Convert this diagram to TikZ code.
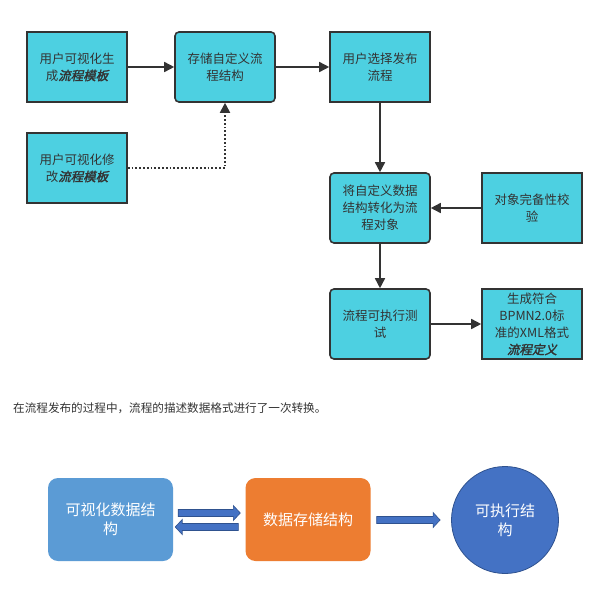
\documentclass[tikz,border=0pt]{standalone}
\usepackage{fontspec}
\setmainfont{Noto Sans CJK SC}
\newfontfamily\cjkbi{Noto Sans CJK SC}[FakeSlant=0.22,FakeBold=2]
\usetikzlibrary{arrows.meta,calc}
\definecolor{boxcyan}{HTML}{4DD0E1}
\definecolor{ink}{HTML}{333333}
\definecolor{lblue}{HTML}{5B9BD5}
\definecolor{orng}{HTML}{ED7D31}
\definecolor{dblue}{HTML}{4472C4}
\definecolor{dbline}{HTML}{2F528F}
\newcommand\bi[1]{{\cjkbi #1}}
\newcommand\blkR[2]{%
  \path[barr] let \p1=(#1), \p2=(#2) in
   (\x1,\y1+3.5pt) -- (\x2-7pt,\y1+3.5pt) -- (\x2-7pt,\y1+7.5pt) -- (\x2,\y1)
   -- (\x2-7pt,\y1-7.5pt) -- (\x2-7pt,\y1-3.5pt) -- (\x1,\y1-3.5pt) -- cycle;}
\newcommand\blkL[2]{%
  \path[barr] let \p1=(#1), \p2=(#2) in
   (\x1,\y1+3.5pt) -- (\x2+7pt,\y1+3.5pt) -- (\x2+7pt,\y1+7.5pt) -- (\x2,\y1)
   -- (\x2+7pt,\y1-7.5pt) -- (\x2+7pt,\y1-3.5pt) -- (\x1,\y1-3.5pt) -- cycle;}
\tikzset{
  flowbox/.style={draw=ink,line width=1.6pt,fill=boxcyan,minimum width=100pt,minimum height=70pt,
    inner sep=2pt,align=center,text=ink,font=\fontsize{12.5pt}{17pt}\selectfont},
  flowround/.style={flowbox,rounded corners=4pt},
  conn/.style={draw=ink,line width=1.6pt,-{Triangle[length=10pt,width=10pt]}},
  dotconn/.style={draw=ink,line width=1.8pt,dotted,-{Triangle[length=10pt,width=10pt]}},
  bigbox/.style={rounded corners=10pt,minimum width=125pt,minimum height=83pt,align=center,
    text=white,font=\fontsize{15pt}{19pt}\selectfont},
  barr/.style={fill=dblue,draw=dbline,line width=0.6pt}
}
\begin{document}
\begin{tikzpicture}[x=1pt,y=-1pt]
\useasboundingbox[fill=white] (0,0) rectangle (600,592);
% top flow chart
\node[flowbox] (A) at (77,67) {用户可视化生\\成\bi{流程模板}};
\node[flowround] (B) at (225,67) {存储自定义流\\程结构};
\node[flowbox] (D) at (380,67) {用户选择发布\\流程};
\node[flowbox] (C) at (77,168) {用户可视化修\\改\bi{流程模板}};
\node[flowround] (E) at (380,208) {将自定义数据\\结构转化为流\\程对象};
\node[flowbox] (F) at (532,208) {对象完备性校\\验};
\node[flowround] (G) at (380,324) {流程可执行测\\试};
\node[flowbox] (H) at (532,324) {生成符合\\BPMN2.0标\\准的XML格式\\\bi{流程定义}};
\draw[conn] (A) -- (B);
\draw[conn] (B) -- (D);
\draw[dotconn] (C.east) -| (B.south);
\draw[conn] (D) -- (E);
\draw[conn] (F) -- (E);
\draw[conn] (E) -- (G);
\draw[conn] (G) -- (H);
% caption
\node[anchor=west,text=ink,inner sep=0pt,font=\fontsize{11.6pt}{14pt}\selectfont] (cap) at (13,408)
  {在流程发布的过程中，流程的描述数据格式进行了一次转换。};
% bottom diagram
\node[bigbox,fill=lblue] (P) at (110.5,519.5) {可视化数据结\\构};
\node[bigbox,fill=orng] (Q) at (308,519.5) {数据存储结构};
\node[circle,fill=dblue,draw=dbline,line width=0.8pt,minimum size=107pt,align=center,
  text=white,font=\fontsize{15pt}{19pt}\selectfont,inner sep=0pt] (R) at (505,520) {可执行结\\构};
\blkR{$(P.east)+(5,-6.5)$}{$(Q.west)+(-5,-6.5)$}
\blkL{$(Q.west)+(-7,7.5)$}{$(P.east)+(2,7.5)$}
\blkR{$(Q.east)+(6,0.5)$}{$(R.west)+(-11,0.5)$}
\end{tikzpicture}
\end{document}
